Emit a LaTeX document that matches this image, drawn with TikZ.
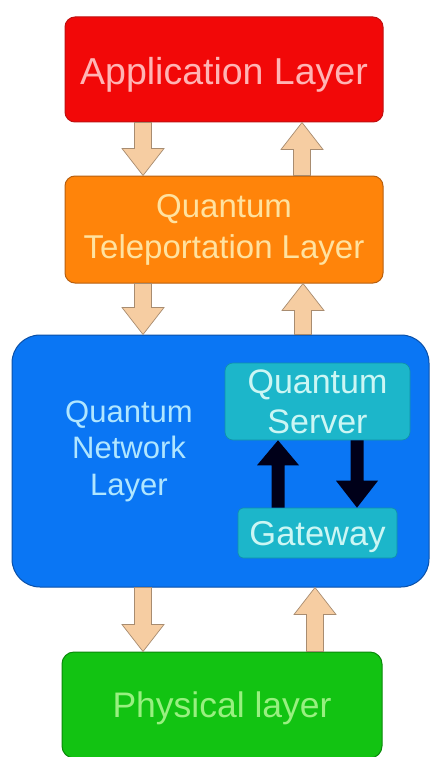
\documentclass[tikz,border=0pt]{standalone}
\usepackage{fontspec}
\setmainfont{Liberation Sans}
\usetikzlibrary{calc}
\definecolor{appred}{HTML}{F20808}
\definecolor{appredd}{HTML}{C01010}
\definecolor{apptxt}{HTML}{FFB4B4}
\definecolor{telor}{HTML}{FF840A}
\definecolor{telord}{HTML}{B86010}
\definecolor{teltxt}{HTML}{FFE2A0}
\definecolor{netblue}{HTML}{0A76F4}
\definecolor{netblued}{HTML}{0A50A8}
\definecolor{nettxt}{HTML}{B0E6FF}
\definecolor{srvteal}{HTML}{1CB6CA}
\definecolor{srvteald}{HTML}{1090A8}
\definecolor{srvtxt}{HTML}{CCF6F4}
\definecolor{phgreen}{HTML}{12C312}
\definecolor{phgreend}{HTML}{0A8A0A}
\definecolor{phtxt}{HTML}{98F080}
\definecolor{arrfill}{HTML}{F6CDA2}
\definecolor{arrline}{HTML}{A88C70}
\newcommand\fatarr[6]{%
  \coordinate (fa-h) at ($(#3)!#6!(#2)$);
  \draw[#1] ($(#2)!#4!90:(#3)$) -- ($(fa-h)!#4!-90:(#2)$) -- ($(fa-h)!#5!-90:(#2)$) -- (#3)
    -- ($(fa-h)!#5!90:(#2)$) -- ($(fa-h)!#4!90:(#2)$) -- ($(#2)!#4!-90:(#3)$) -- cycle;}
\tikzset{
  layerbox/.style={rectangle, rounded corners=#1, line width=1pt, inner sep=0pt, align=center},
  tanarrow/.style={fill=arrfill, draw=arrline, line width=0.7pt, line join=miter},
  blackarrow/.style={fill=black!90!blue, draw=none},
}
\begin{document}
\begin{tikzpicture}[x=1pt,y=-1pt]
\useasboundingbox[fill=white] (0,0) rectangle (431,757);
% layers
\node[layerbox=10pt, fill=appred, draw=appredd, minimum width=318pt, minimum height=105pt,
      text=apptxt, font=\fontsize{37.5}{44}\selectfont, text height=31pt, text depth=0pt] (app) at (224,69.5) {Application Layer};
\node[layerbox=10pt, fill=telor, draw=telord, minimum width=318pt, minimum height=107pt,
      text=teltxt, font=\fontsize{33}{41}\selectfont] (tel) at (224,229.5) {Quantum\\Teleportation Layer};
\node[layerbox=28pt, fill=netblue, draw=netblued, minimum width=417pt, minimum height=252pt] (net) at (220.5,461) {};
\node[inner sep=0pt, align=center, text=nettxt, font=\fontsize{31}{36.5}\selectfont] (netlbl) at (129,451) {Quantum\\Network\\Layer};
\node[layerbox=8pt, fill=srvteal, draw=srvteald, line width=0.6pt, minimum width=185pt, minimum height=77pt,
      text=srvtxt, font=\fontsize{34}{40}\selectfont] (srv) at (317.5,401.5) {Quantum\\Server};
\node[layerbox=5pt, fill=srvteal, draw=srvteald, line width=0.6pt, minimum width=159pt, minimum height=50pt,
      text=srvtxt, font=\fontsize{34.5}{40}\selectfont, text height=24pt, text depth=0pt] (gw) at (317.5,533) {Gateway};
\node[layerbox=12pt, fill=phgreen, draw=phgreend, minimum width=320pt, minimum height=106pt,
      text=phtxt, font=\fontsize{35.5}{42}\selectfont, text height=24pt, text depth=0pt] (phys) at (222,705) {Physical layer};
% arrow columns
\coordinate (cl) at (143,0);
\coordinate (cr1) at (302,0);
\coordinate (cr2) at (303,0);
\coordinate (cr3) at (315,0);
\coordinate (bl) at (278,0);
\coordinate (br) at (357,0);
% tan arrows
\fatarr{tanarrow}{app.south -| cl}{tel.north -| cl}{8.5pt}{21pt}{27pt}
\fatarr{tanarrow}{tel.north -| cr1}{app.south -| cr1}{8.5pt}{21pt}{27pt}
\fatarr{tanarrow}{tel.south -| cl}{net.north -| cl}{8.5pt}{21pt}{27pt}
\fatarr{tanarrow}{net.north -| cr2}{tel.south -| cr2}{8.5pt}{21pt}{27pt}
\fatarr{tanarrow}{net.south -| cl}{phys.north -| cl}{8.5pt}{21pt}{27pt}
\fatarr{tanarrow}{phys.north -| cr3}{net.south -| cr3}{8.5pt}{21pt}{27pt}
% black arrows
\fatarr{blackarrow}{gw.north -| bl}{srv.south -| bl}{6.5pt}{21pt}{25pt}
\fatarr{blackarrow}{srv.south -| br}{gw.north -| br}{6.5pt}{21pt}{27pt}
\end{tikzpicture}
\end{document}
